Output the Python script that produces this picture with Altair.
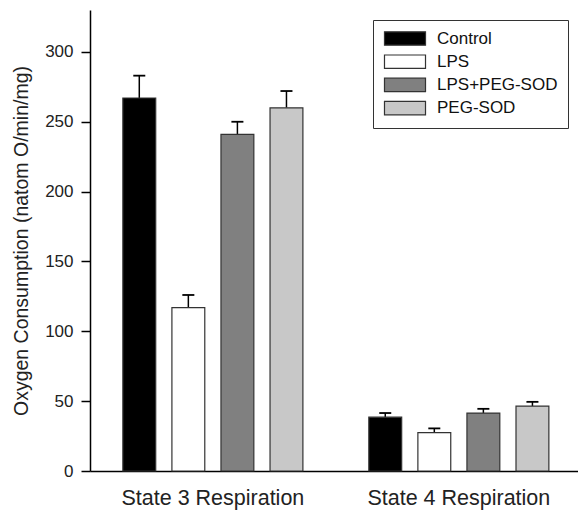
import altair as alt
import pandas as pd

states = ["State 3 Respiration", "State 4 Respiration"]
treatments = ["Control", "LPS", "LPS+PEG-SOD", "PEG-SOD"]
state3_mean = [267, 117, 241, 260]
state3_err = [16, 9, 9, 12]
state4_mean = [38.5, 27.5, 41.5, 46.5]
state4_err = [3, 3, 3, 3]
fills = ["#000000", "#ffffff", "#808080", "#c8c8c8"]
y_ticks = [0, 50, 100, 150, 200, 250, 300]

rows = []
for state, means, errs in zip(states, [state3_mean, state4_mean], [state3_err, state4_err]):
    for t, m, e in zip(treatments, means, errs):
        rows.append({"state": state, "treatment": t, "mean": m, "upper": m + e})
df = pd.DataFrame(rows)

FONT = "Liberation Sans"

x = alt.X(
    "state:N", sort=states, title=None,
    scale=alt.Scale(paddingInner=0.268, paddingOuter=0.126, align=0.53),
    axis=alt.Axis(labelAngle=0, ticks=False, labelFontSize=21.5, labelPadding=16,
                  labelLimit=400, domainColor="#000000", domainWidth=1.5,
                  labelColor="#222222", labelFont=FONT),
)
xo = alt.XOffset("treatment:N", sort=treatments,
                 scale=alt.Scale(paddingInner=0.33, paddingOuter=0))
y = alt.Y(
    "mean:Q",
    scale=alt.Scale(domain=[0, 330], nice=False),
    axis=alt.Axis(values=y_ticks, title="Oxygen Consumption (natom O/min/mg)",
                  tickSize=9, labelFontSize=17, titleFontSize=19.5,
                  titleFontWeight="normal", grid=False, domainColor="#000000",
                  domainWidth=1.5, tickColor="#000000", tickWidth=1.5,
                  labelPadding=8, titlePadding=13, labelColor="#222222",
                  titleColor="#222222", labelFont=FONT, titleFont=FONT),
)
color = alt.Color(
    "treatment:N", sort=treatments,
    scale=alt.Scale(domain=treatments, range=fills),
    legend=alt.Legend(
        title=None, orient="none", legendX=283, legendY=10,
        symbolType="M-2.93,-0.96H2.93V0.96H-2.93Z", symbolSize=196,
        symbolOffset=13.5, labelOffset=23.5,
        symbolStrokeColor="#333333", symbolStrokeWidth=1.2, symbolOpacity=1,
        labelFontSize=17, labelFont=FONT, labelColor="#111111", labelLimit=300,
        padding=10, strokeColor="#333333", fillColor="#ffffff", rowPadding=4.2,
    ),
)

bars = alt.Chart(df).mark_bar(stroke="#333333", strokeWidth=1.2, opacity=1).encode(
    x=x, xOffset=xo, y=y, fill=color
)
err_line = alt.Chart(df).mark_rule(color="#000000", strokeWidth=1.5).encode(
    x=x, xOffset=xo, y="mean:Q", y2="upper:Q"
)
err_cap = alt.Chart(df).mark_tick(color="#000000", thickness=1.8, size=12, opacity=1).encode(
    x=x, xOffset=xo, y="upper:Q"
)

chart = (
    alt.layer(err_line, bars, err_cap)
    .properties(
        width=488, height=461,
        autosize=alt.AutoSizeParams(type="none"),
        padding={"left": 90, "top": 10, "right": 0, "bottom": 39},
        background="#ffffff",
    )
    .configure_view(stroke=None)
)

chart.save("out.html", embed_options={"renderer": "svg", "actions": False})
